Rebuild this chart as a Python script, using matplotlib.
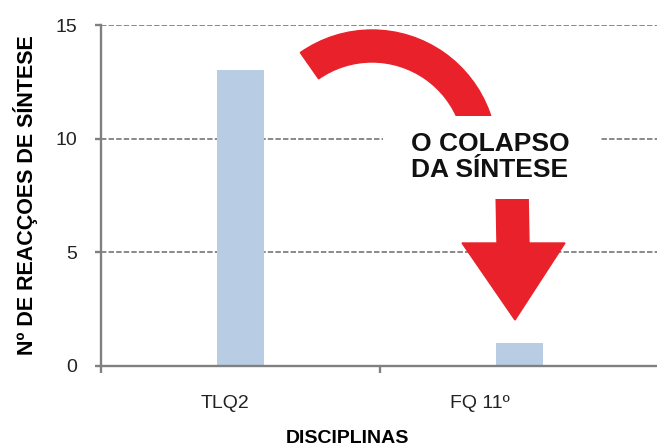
import matplotlib
matplotlib.use("Agg")
import matplotlib.pyplot as plt
from matplotlib.patches import Wedge, Polygon, Rectangle
from matplotlib.transforms import Affine2D, ScaledTranslation

categories = ["TLQ2", "FQ 11º"]
reacoes = [13, 1]
yticks = [0, 5, 10, 15]

W, H = 657, 446
GRAY = "#808080"
RED = "#e8212a"
BLUE = "#b8cce4"

plt.rcParams["font.family"] = ["Liberation Sans", "DejaVu Sans"]

fig = plt.figure(figsize=(W / 100, H / 100), dpi=100)
ax = fig.add_axes([101 / W, 80 / H, 558 / W, 341 / H])

x = list(range(len(categories)))
ax.bar(x, reacoes, width=0.17, color=BLUE, zorder=2)

ax.set_xlim(-0.5, len(categories) - 0.5)
ax.set_ylim(0, 15)
ax.set_yticks(yticks)
ax.yaxis.grid(True, color=GRAY, linestyle=(0, (3, 1.2)), linewidth=1.3, zorder=1)
ax.set_axisbelow(True)

for side in ("top", "right"):
    ax.spines[side].set_visible(False)
for side in ("left", "bottom"):
    ax.spines[side].set_color(GRAY)
    ax.spines[side].set_linewidth(1.7)

# category labels between tick marks at the boundaries
ax.set_xticks(x)
ax.set_xticklabels(categories, fontsize=14, color="#222222")
ax.set_xticks([-0.5, 0.5, 1.5], minor=True)
ax.tick_params(axis="x", which="major", length=0, pad=21)
ax.tick_params(axis="x", which="minor", length=5, width=1.7, color=GRAY)
ax.tick_params(axis="y", length=4, width=1.7, color=GRAY, pad=13,
               labelsize=14, labelcolor="#222222")
for lbl, dx in zip(ax.get_xticklabels(), [-15, -40]):
    lbl.set_transform(lbl.get_transform() + ScaledTranslation(dx / 100, 0, fig.dpi_scale_trans))

ax.set_ylabel("Nº DE REACÇOES DE SÍNTESE", fontsize=15.5, fontweight="bold")
ax.yaxis.set_label_coords(-0.113, 0.5)
ax.set_xlabel("DISCIPLINAS", fontsize=14, fontweight="bold")
ax.xaxis.set_label_coords(0.442, -0.187)

# pixel coordinates, origin at the top-left corner
px = Affine2D().scale(1, -1).translate(0, H)

arc = Wedge((372, 155), 125, -125, 15, width=32, color=RED, transform=px, zorder=5)
head = Polygon([(496, 190), (528, 190), (529, 243), (565, 243), (515, 320),
                (462, 243), (497, 243)], closed=True, color=RED, transform=px, zorder=5)
fig.add_artist(arc)
fig.add_artist(head)

box = Rectangle((383, 116), 217, 83, facecolor="white", edgecolor="none",
                transform=px, zorder=6)
fig.add_artist(box)
fig.text(490, 157, "O COLAPSO\nDA SÍNTESE", transform=px, fontsize=19,
         fontweight="bold", ha="center", va="center", linespacing=1.12,
         color="#111111", zorder=7)

fig.savefig("out.png", dpi=100)
